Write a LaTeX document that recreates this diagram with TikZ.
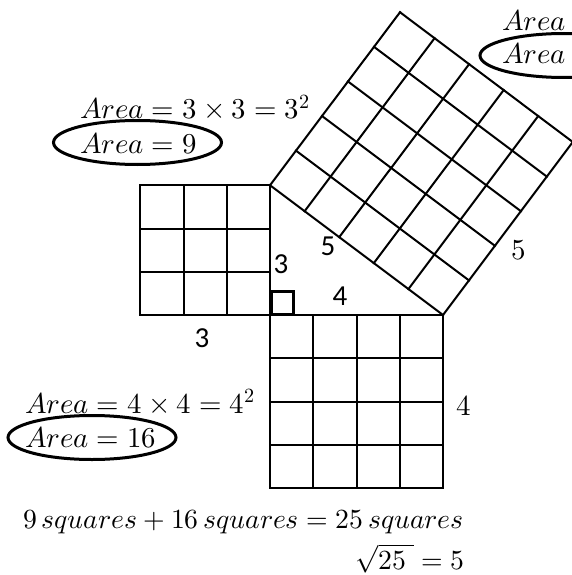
\documentclass[tikz,border=0pt]{standalone}
\usepackage{fontspec}
\usepackage{unicode-math}
\setmathfont{Latin Modern Math}
\newfontfamily\labfont{Carlito}
\usetikzlibrary{calc,shapes.geometric}
\newcommand\gridsq[5]{%
  \foreach \i in {0,...,#5}{%
    \draw[gridline] ($(#1)!\i/#5!(#2)$) -- ($(#4)!\i/#5!(#3)$);
    \draw[gridline] ($(#1)!\i/#5!(#4)$) -- ($(#2)!\i/#5!(#3)$);
  }}
\begin{document}
\begin{tikzpicture}[x=1pt,y=-1pt,
  gridline/.style={line width=2pt,line cap=rect},
  mtext/.style={font=\fontsize{28.8}{34}\selectfont,inner sep=0pt,anchor=base west},
  btext/.style={font=\fontsize{27.7}{33}\selectfont,inner sep=0pt,anchor=base west},
  lab/.style={font=\labfont\fontsize{29}{33}\selectfont,inner sep=0pt},
  slab/.style={font=\fontsize{29}{34}\selectfont,inner sep=0pt},
  oval/.style={ellipse,draw,line width=3pt,inner sep=0pt,minimum width=168pt,minimum height=44pt}]
\clip (0,0) rectangle (572,575);
\fill[white] (0,0) rectangle (572,575);
% left square (3x3)
\coordinate (L1) at (140.25,185.25);
\coordinate (L2) at (270,185.25);
\coordinate (L3) at (270,315);
\coordinate (L4) at (140.25,315);
% bottom square (4x4)
\coordinate (B1) at (270,315);
\coordinate (B2) at (443,315);
\coordinate (B3) at (443,488);
\coordinate (B4) at (270,488);
% hypotenuse square (5x5)
\coordinate (H1) at (270,185.25);
\coordinate (H2) at (443,315);
\coordinate (H3) at (572.75,142);
\coordinate (H4) at (400,12.25);
\gridsq{L1}{L2}{L3}{L4}{3}
\gridsq{B1}{B2}{B3}{B4}{4}
\gridsq{H1}{H2}{H3}{H4}{5}
% right angle mark
\draw[line width=2.6pt] (271.5,291.5) rectangle (293.5,313.8);
% side labels
\node[lab] (h5) at (328,246) {5};
\node[lab] (l3) at (281,264) {3};
\node[lab] (b4) at (340,296) {4};
\node[lab] (s3) at (202,338) {3};
\node[slab] (r4) at (464,406) {$4$};
\node[slab] (r5) at (519,250) {$5$};
% area texts
\node[mtext] (a3) at (80,119) {$Area = 3\times 3 = 3^2$};
\node[mtext] (a9) at (80,153) {$Area = 9$};
\node[mtext] (a25t) at (502,31) {$Area$};
\node[mtext] (a25) at (502,64) {$Area$};
\node[mtext] (a4) at (25,413) {$Area = 4\times 4 = 4^2$};
\node[mtext] (a16) at (25,447) {$Area = 16$};
\node[oval] (e9) at (137.5,142.5) {};
\node[oval] (e25) at (564,55.5) {};
\node[oval] (e16) at (92,437.5) {};
% bottom sums
\node[btext] (sum) at (23,528) {$9\,squares + 16\,squares = 25\,squares$};
\node[btext,anchor=base east] (root) at (465,569) {$\smash{\sqrt{25\;}} = 5$};
\end{tikzpicture}
\end{document}
